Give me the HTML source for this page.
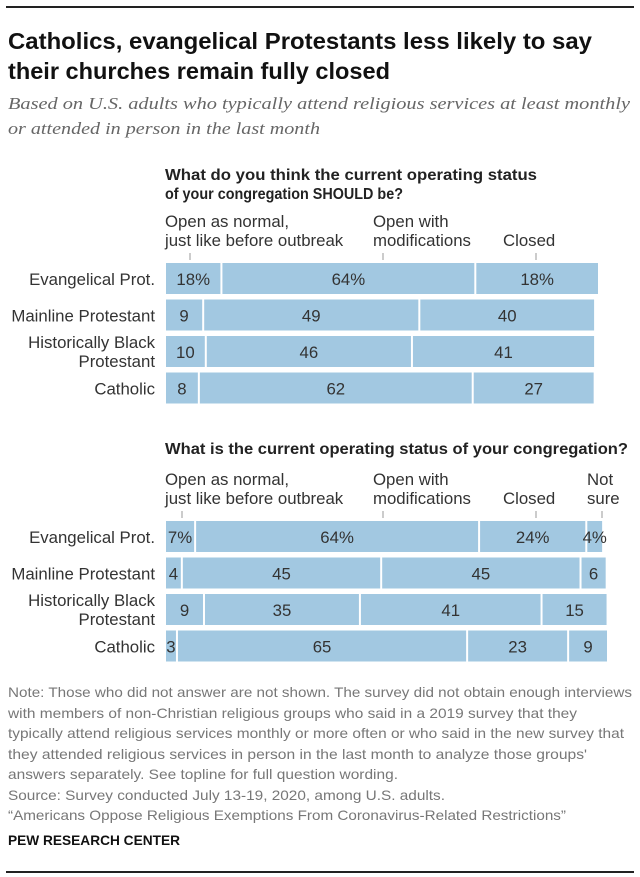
<!DOCTYPE html>
<html><head><meta charset="utf-8"><style>
html,body{margin:0;padding:0;background:#fff;}
svg{display:block;}
text{font-family:"Liberation Sans",sans-serif;}
</style></head><body>
<svg id="chart" width="640" height="877" viewBox="0 0 640 877" xmlns="http://www.w3.org/2000/svg">
<line x1="6" y1="7" x2="634" y2="7" stroke="#222" stroke-width="2"/>
<g font-weight="bold" font-size="23" fill="#111">
<text x="8" y="49" textLength="584" lengthAdjust="spacingAndGlyphs">Catholics, evangelical Protestants less likely to say</text>
<text x="8" y="79" textLength="382" lengthAdjust="spacingAndGlyphs">their churches remain fully closed</text>
</g>
<g font-style="italic" font-size="17" fill="#666">
<text x="8" y="109" style="font-family:'Liberation Serif',serif" textLength="622" lengthAdjust="spacingAndGlyphs">Based on U.S. adults who typically attend religious services at least monthly</text>
<text x="8" y="134" style="font-family:'Liberation Serif',serif" textLength="312" lengthAdjust="spacingAndGlyphs">or attended in person in the last month</text>
</g>
<g font-weight="bold" font-size="15.5" fill="#222">
<text x="165" y="180" textLength="372" lengthAdjust="spacingAndGlyphs">What do you think the current operating status</text>
<text x="165" y="199" textLength="238" lengthAdjust="spacingAndGlyphs">of your congregation SHOULD be?</text>
</g>
<g font-weight="bold" font-size="15.5" fill="#222">
<text x="165" y="454" textLength="463" lengthAdjust="spacingAndGlyphs">What is the current operating status of your congregation?</text>
</g>
<g id="c1"></g>
<g id="c2"></g>
<g font-size="14" fill="#777">
<text x="8" y="697" textLength="624" lengthAdjust="spacingAndGlyphs">Note: Those who did not answer are not shown. The survey did not obtain enough interviews</text>
<text x="8" y="718" textLength="569" lengthAdjust="spacingAndGlyphs">with members of non-Christian religious groups who said in a 2019 survey that they</text>
<text x="8" y="738" textLength="616" lengthAdjust="spacingAndGlyphs">typically attend religious services monthly or more often or who said in the new survey that</text>
<text x="8" y="759" textLength="579" lengthAdjust="spacingAndGlyphs">they attended religious services in person in the last month to analyze those groups'</text>
<text x="8" y="779" textLength="390" lengthAdjust="spacingAndGlyphs">answers separately. See topline for full question wording.</text>
<text x="8" y="800" textLength="437" lengthAdjust="spacingAndGlyphs">Source: Survey conducted July 13-19, 2020, among U.S. adults.</text>
<text x="8" y="820" textLength="558" lengthAdjust="spacingAndGlyphs">“Americans Oppose Religious Exemptions From Coronavirus-Related Restrictions”</text>
</g>
<text x="8" y="845" font-weight="bold" font-size="14" fill="#111" textLength="172" lengthAdjust="spacingAndGlyphs">PEW RESEARCH CENTER</text>
<line x1="6" y1="872" x2="634" y2="872" stroke="#222" stroke-width="2"/>
</svg>
<script>
const categories = ["Evangelical Prot.", "Mainline Protestant", "Historically Black|Protestant", "Catholic"];
const should_values = [[13, 58.5, 28.5], [8.8, 49.8, 40.5], [9.4, 47.5, 42.2], [7.8, 63.1, 28.1]];
const should_labels = [["18%", "64%", "18%"], ["9", "49", "40"], ["10", "46", "41"], ["8", "62", "27"]];
const current_values = [[6.8, 64.1, 24.2, 3.8], [3.8, 45, 45, 5.9], [8.8, 35.2, 41, 14.9], [2.7, 65.5, 22.8, 9]];
const current_labels = [["7%", "64%", "24%", "4%"], ["4", "45", "45", "6"], ["9", "35", "41", "15"], ["3", "65", "23", "9"]];
const should_headers = [["Open as normal,", "just like before outbreak"], ["Open with", "modifications"], ["", "Closed"]];
const current_headers = [["Open as normal,", "just like before outbreak"], ["Open with", "modifications"], ["", "Closed"], ["Not", "sure"]];

const NS = "http://www.w3.org/2000/svg";
const FS = 16.8;
function mk(tag, attrs, parent) {
  const e = document.createElementNS(NS, tag);
  for (const k in attrs) e.setAttribute(k, attrs[k]);
  parent.appendChild(e);
  return e;
}
function draw(g, values, labels, headers, top, scale, headX, tickX, catNames) {
  const x0 = 166, pitch = 36.5, h = 31;
  const xs = v => v * scale;
  headers.forEach((hd, i) => {
    const t1 = mk("text", {x: headX[i], y: top - 36, "font-size": FS, fill: "#333"}, g);
    t1.textContent = hd[0];
    
    
    const t2 = mk("text", {x: headX[i], y: top - 17, "font-size": FS, fill: "#333"}, g);
    t2.textContent = hd[1];
    
    
    const tk = mk("line", {x1: tickX[i], x2: tickX[i], y1: top - 10, y2: top - 3, stroke: "#999", "stroke-width": 1}, g);
    
    
  });
  values.forEach((row, r) => {
    const y = top + r * pitch;
    const parts = catNames[r].split("|");
    parts.forEach((p, k) => {
      const ty = parts.length === 1 ? y + 22 : y + 12 + k * 19;
      const t = mk("text", {x: 155, y: ty, "font-size": FS, fill: "#333", "text-anchor": "end"}, g);
      t.textContent = p;
      
      
    });
    let cx = x0;
    row.forEach((v, i) => {
      const w = xs(v);
      const rect = mk("rect", {x: cx, y: y, width: Math.max(0, w - 2), height: h, fill: "#a2c8e1"}, g);
      
      
      const t = mk("text", {x: cx + (w - 2) / 2, y: y + 22, "font-size": FS, fill: "#333", "text-anchor": "middle"}, g);
      t.textContent = labels[r][i];
      
      
      cx += w;
    });
  });
}
draw(document.getElementById("c1"), should_values, should_labels, should_headers, 263, 4.34, [165, 373, 503], [190, 383, 536], categories);
draw(document.getElementById("c2"), current_values, current_labels, current_headers, 521, 4.43, [165, 373, 503, 587], [182, 383, 536, 602], categories);
</script>
</body></html>
